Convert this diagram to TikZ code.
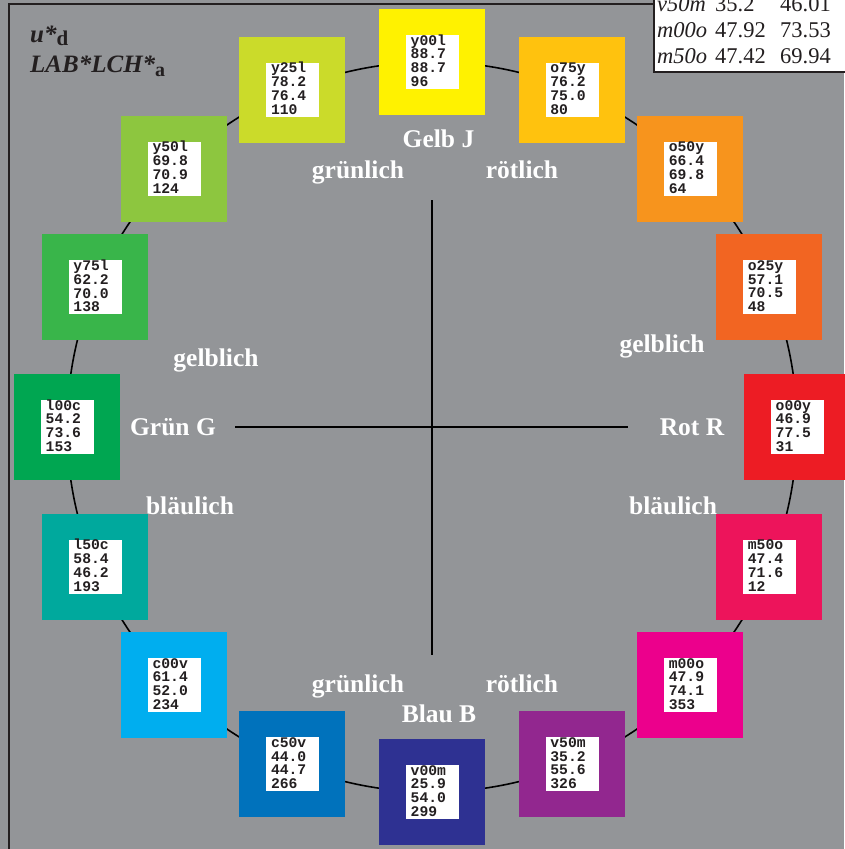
\documentclass[tikz,border=0pt]{standalone}
\usepackage{fontspec}
\setmainfont{Liberation Serif}
\setmonofont{Liberation Mono}
\definecolor{bg}{RGB}{147,149,152}
\definecolor{ink}{RGB}{35,31,32}
\definecolor{cy00l}{RGB}{255,242,0}
\definecolor{co75y}{RGB}{255,194,14}
\definecolor{co50y}{RGB}{247,148,29}
\definecolor{co25y}{RGB}{242,101,34}
\definecolor{co00y}{RGB}{237,28,36}
\definecolor{cm50o}{RGB}{237,20,91}
\definecolor{cm00o}{RGB}{236,0,140}
\definecolor{cv50m}{RGB}{146,39,143}
\definecolor{cv00m}{RGB}{46,49,146}
\definecolor{cc50v}{RGB}{0,114,188}
\definecolor{cc00v}{RGB}{0,174,239}
\definecolor{cl50c}{RGB}{0,169,157}
\definecolor{cl00c}{RGB}{0,166,81}
\definecolor{cy75l}{RGB}{57,181,74}
\definecolor{cy50l}{RGB}{141,198,63}
\definecolor{cy25l}{RGB}{203,219,42}
\tikzset{
  sq/.style={draw=none, minimum width=106pt, minimum height=106pt, inner sep=0pt},
  wb/.style={fill=white, draw=none, minimum width=53pt, minimum height=54pt, inner sep=0pt},
  val/.style={inner sep=0pt, anchor=base west, text=ink, font=\fontsize{14.7}{13.4}\selectfont\ttfamily\bfseries},
  lab/.style={inner sep=0pt, anchor=base, text=white, font=\fontsize{25.5}{26}\selectfont\bfseries},
  tab/.style={inner sep=0pt, anchor=base west, text=ink, font=\fontsize{22.5}{24}\selectfont},
  thin/.style={draw=black, line width=1.6pt},
}
\begin{document}
\begin{tikzpicture}[x=1pt,y=-1pt]
\useasboundingbox (0,0) rectangle (844,849);
\fill[bg] (0,0) rectangle (844,849);
% frame
\coordinate (ftl) at (8.5,4);
\coordinate (ftr) at (654,4);
\coordinate (fbl) at (8.5,852);
\draw[ink, line width=2pt] (ftr) -- (ftl) -- (fbl);
% circle and cross
\coordinate (c) at (432,427);
\draw[thin] (c) circle (365pt);
\coordinate (vt) at (432,200);
\coordinate (vb) at (432,655);
\coordinate (hl) at (235,427);
\coordinate (hr) at (628,427);
\draw[thin] (vt) -- (vb);
\draw[thin] (hl) -- (hr);
% squares
\foreach \a/\n/\la/\lb/\lc [count=\i] in {
  0/y00l/88.7/88.7/96,
  22.5/o75y/76.2/75.0/80,
  45/o50y/66.4/69.8/64,
  67.5/o25y/57.1/70.5/48,
  90/o00y/46.9/77.5/31,
  112.5/m50o/47.4/71.6/12,
  135/m00o/47.9/74.1/353,
  157.5/v50m/35.2/55.6/326,
  180/v00m/25.9/54.0/299,
  202.5/c50v/44.0/44.7/266,
  225/c00v/61.4/52.0/234,
  247.5/l50c/58.4/46.2/193,
  270/l00c/54.2/73.6/153,
  292.5/y75l/62.2/70.0/138,
  315/y50l/69.8/70.9/124,
  337.5/y25l/78.2/76.4/110}
{
  \node[sq, fill=c\n] (s\i) at ({432+365*sin(\a)},{427-365*cos(\a)}) {};
  \node[wb] (w\i) at ([xshift=0.5pt]s\i.center) {};
  \node[val, xshift=-21.5pt, yshift=17pt] (t\i) at (s\i.center)
    {\begin{tabular}[t]{@{}l@{}}\n\\\la\\\lb\\\lc\end{tabular}};
}
% hue labels
\node[lab] (gelb) at (438.5,147) {Gelb J};
\node[lab] (gr1) at (358,178) {grünlich};
\node[lab] (ro1) at (522,178) {rötlich};
\node[lab] (ge1) at (216,366) {gelblich};
\node[lab] (ge2) at (662,352) {gelblich};
\node[lab] (grun) at (173,435) {Grün G};
\node[lab] (rot) at (692,435) {Rot R};
\node[lab] (bl1) at (190,514) {bläulich};
\node[lab] (bl2) at (673,514) {bläulich};
\node[lab] (gr2) at (358,692) {grünlich};
\node[lab] (ro2) at (522,692) {rötlich};
\node[lab] (blau) at (439,722) {Blau B};
% title
\node[inner sep=0pt, anchor=base west, text=ink] (t1) at (30,42)
  {\fontsize{25}{26}\selectfont\bfseries\itshape u*\upshape\fontsize{21}{22}\selectfont\raisebox{-3pt}{d}};
\node[inner sep=0pt, anchor=base west, text=ink] (t2) at (30,72)
  {\fontsize{25}{26}\selectfont\bfseries\itshape LAB*LCH*\upshape\fontsize{20}{22}\selectfont\raisebox{-4pt}{a}};
% table
\fill[white] (654,-10) rectangle (850,72);
\coordinate (tbt) at (654,-10);
\coordinate (tbc) at (654,72);
\coordinate (tbr) at (850,72);
\draw[ink, line width=1.5pt] (tbt) -- (tbc) -- (tbr);
\node[tab] (r1a) at (657,11.5) {\itshape v50m};
\node[tab] (r1b) at (715,11.5) {35.2};
\node[tab] (r1c) at (780,11.5) {46.01};
\node[tab] (r2a) at (657,37.5) {\itshape m00o};
\node[tab] (r2b) at (715,37.5) {47.92};
\node[tab] (r2c) at (780,37.5) {73.53};
\node[tab] (r3a) at (657,63.5) {\itshape m50o};
\node[tab] (r3b) at (715,63.5) {47.42};
\node[tab] (r3c) at (780,63.5) {69.94};
\end{tikzpicture}
\end{document}
